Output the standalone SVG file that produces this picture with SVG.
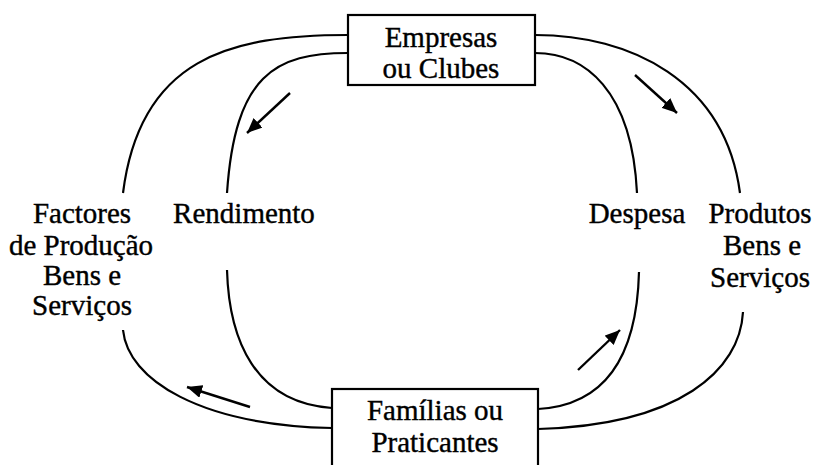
<svg xmlns="http://www.w3.org/2000/svg" width="813" height="465" viewBox="0 0 813 465">
<defs>
<style>
.box{fill:#fff;stroke:#000;stroke-width:2.2}
.c{fill:none;stroke:#000;stroke-width:2.2}
.a{fill:none;stroke:#000;stroke-width:2.4}
text{font-family:"Liberation Serif","Times New Roman",serif;font-size:29px;fill:#000;stroke:#000;stroke-width:0.4;text-anchor:middle}
</style>
<marker id="ah" markerUnits="userSpaceOnUse" markerWidth="17" markerHeight="13" refX="15" refY="6.5" orient="auto">
<path d="M0,0 L15,6.5 L0,13 Z" fill="#000"/>
</marker>
</defs>
<rect width="813" height="465" fill="#fff"/>
<g id="connectors">
<path class="c" d="M348,35 C230,35 140,58 123,193"/>
<path class="c" d="M348,53 C275,53 235,75 227,193"/>
<path class="c" d="M227,270 C229,340 255,403 332,408"/>
<path class="c" d="M123,330 C128,380 200,425 332,428"/>
<path class="c" d="M535,35 C630,35 725,80 740,193"/>
<path class="c" d="M535,53 C585,53 632,90 637,193"/>
<path class="c" d="M639,272 C637,350 610,405 538,409"/>
<path class="c" d="M743,312 C740,370 680,425 538,429"/>
<line class="a" x1="290" y1="93" x2="247" y2="133" marker-end="url(#ah)"/>
<line class="a" x1="635" y1="75" x2="677" y2="113" marker-end="url(#ah)"/>
<line class="a" x1="578" y1="370" x2="620" y2="330" marker-end="url(#ah)"/>
<line class="a" x1="250" y1="407" x2="187" y2="387" marker-end="url(#ah)"/>
</g>
<g id="empresas">
<rect class="box" x="348" y="15" width="187" height="70"/>
<text x="441" y="47">Empresas</text>
<text x="441" y="78">ou Clubes</text>
</g>
<g id="familias">
<rect class="box" x="332" y="389" width="206" height="90"/>
<text x="435" y="420">Famílias ou</text>
<text x="435" y="452">Praticantes</text>
</g>
<g id="factores">
<text x="82" y="223">Factores</text>
<text x="81" y="255">de Produção</text>
<text x="82" y="285">Bens e</text>
<text x="82" y="315">Serviços</text>
</g>
<g id="rendimento">
<text x="244" y="223">Rendimento</text>
</g>
<g id="despesa">
<text x="637" y="223">Despesa</text>
</g>
<g id="produtos">
<text x="760" y="223">Produtos</text>
<text x="762" y="255">Bens e</text>
<text x="760" y="287">Serviços</text>
</g>
</svg>
